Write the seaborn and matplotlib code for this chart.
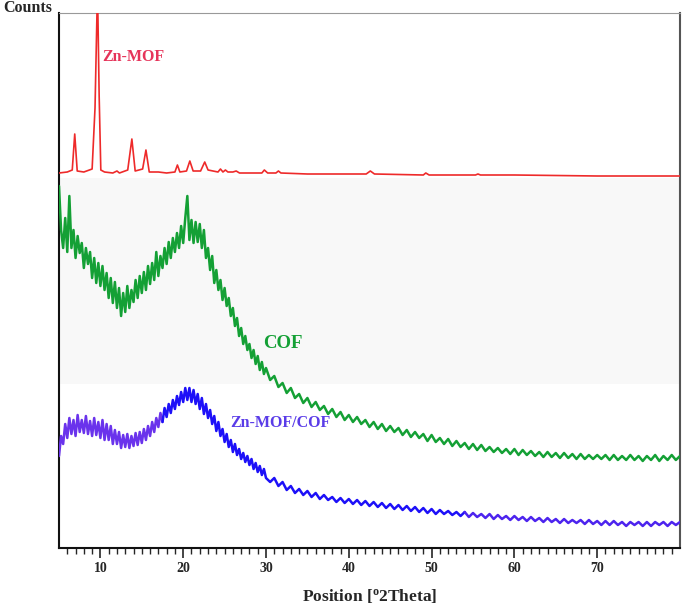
import numpy as np
import pandas as pd
import matplotlib
matplotlib.use("Agg")
import matplotlib.pyplot as plt
import seaborn as sns

# ---------------- data ----------------
mof_x = [5.0, 6.0, 6.6, 6.9, 7.2, 8.0, 9.0, 9.35, 9.65, 9.85, 10.05, 10.5, 11.5, 12.0, 12.3,
         13.3, 13.8, 14.2, 15.1, 15.5, 15.9, 17.0, 18.0, 19.0, 19.3, 19.6, 20.4, 20.8, 21.2,
         22.1, 22.6, 23.0, 23.6, 24.2, 24.5, 24.8, 25.1, 25.4, 26.0, 26.4, 26.8, 28.0, 29.5,
         29.8, 30.2, 31.2, 31.5, 31.8, 35.0, 38.0, 42.1, 42.6, 43.1, 49.0, 49.3, 49.7, 55.3,
         55.6, 55.9, 60.0, 70.0, 80.0]
mof_y = [375, 376, 378, 414, 377, 376, 379, 440, 560, 452, 378, 376, 375, 377, 375,
         378, 409, 377, 379, 398, 376, 376, 375, 376, 383, 376, 377, 387, 377,
         377, 386, 378, 377, 376, 379, 376, 378, 376, 376, 377, 375, 375, 375,
         378, 375, 375, 377, 375, 374, 374, 374, 377, 374, 373, 375, 373, 373,
         374, 373, 373, 372, 372]

# COF: 5.00-30.00 every 0.25, then 30.5-80 every 0.5
cof_y_head = [362, 318, 300, 330,  296, 352, 300, 318,  290, 312, 295, 305,
              280, 300, 284, 296,  270, 290, 265, 285,  262, 282, 258, 275,
              250, 270, 245, 266,  240, 260, 232, 255,  236, 262, 240, 258,
              246, 268, 250, 272,  255, 276, 258, 282,  264, 285, 268, 296,
              272, 292, 280, 300,  284, 306, 290, 310,  296, 315, 300, 322,
              305, 330, 352, 308,  328, 305, 326, 306,  324, 300, 318, 290,
              300, 278, 292, 265,  278, 258, 268, 248,  260, 242, 250, 232,
              240, 222, 230, 212,  220, 204, 212, 198,  204, 190, 198, 184,
              192, 178, 186, 174,  180]
cof_y_tail = [168, 172, 161, 165, 155, 160, 150, 154, 145, 150,
              141, 146, 138, 142, 134, 139, 131, 136, 128, 133,
              126, 131, 124, 128, 121, 126, 119, 124, 117, 122,
              116, 120, 113, 118, 111, 116, 110, 114, 107, 113,
              106, 110, 104, 109, 102, 107, 101, 105, 99, 104,
              98, 103, 97, 101, 96, 100, 95, 99, 94, 99,
              93, 98, 93, 97, 92, 96, 91, 96, 91, 95,
              90, 95, 90, 94, 89, 94, 89, 93, 89, 93,
              89, 93, 88, 93, 88, 92, 88, 93, 88, 92,
              87, 92, 88, 93, 87, 92, 88, 93, 88, 92]

comp_y_head = [92, 112, 104, 124,  110, 130, 114, 128,  112, 133, 116, 128,
               115, 132, 114, 127,  112, 130, 113, 126,  110, 128, 108, 124,
               108, 122, 104, 118,  104, 116, 100, 113,  101, 114, 100, 112,
               102, 115, 103, 116,  105, 119, 108, 122,  112, 126, 116, 130,
               121, 135, 126, 140,  131, 144, 135, 148,  139, 152, 143, 156,
               146, 160, 148, 160,  146, 158, 144, 154,  139, 150, 134, 144,
               130, 138, 124, 132,  117, 126, 112, 119,  106, 114, 101, 108,
               96, 104, 93, 99,  89, 95, 86, 92,  83, 89, 79, 85,
               76, 82, 73, 79,  70]
comp_y_tail = [66, 70, 62, 66, 58, 62, 55, 59, 53, 57,
               51, 55, 49, 53, 48, 51, 46, 50, 45, 49,
               44, 48, 43, 47, 42, 46, 41, 45, 40, 44,
               39, 43, 38, 42, 37, 41, 36, 40, 35, 39,
               34, 38, 34, 37, 33, 36, 32, 36, 31, 35,
               31, 34, 30, 34, 29, 33, 29, 32, 28, 32,
               28, 31, 27, 31, 27, 30, 26, 30, 26, 29,
               25, 29, 25, 28, 25, 28, 24, 28, 24, 27,
               23, 27, 23, 27, 23, 26, 22, 26, 23, 26,
               22, 26, 22, 26, 23, 26, 22, 26, 23, 26]

x_head = [5.0 + 0.25 * i for i in range(101)]
x_tail = [30.5 + 0.5 * i for i in range(100)]

x_ticks = [10, 20, 30, 40, 50, 60, 70]
labels = ["Zn-MOF", "COF", "Zn-MOF/COF"]

# ---------------- style ----------------
sns.set_style("ticks")
plt.rcParams["font.family"] = ["Liberation Serif", "DejaVu Serif"]
plt.rcParams["font.weight"] = "bold"
plt.rcParams["mathtext.fontset"] = "custom"
plt.rcParams["mathtext.rm"] = "Liberation Serif:bold"
plt.rcParams["mathtext.bf"] = "Liberation Serif:bold"
plt.rcParams["mathtext.it"] = "Liberation Serif:bold:italic"

fig = plt.figure(figsize=(6.85, 6.06), dpi=100)
ax = fig.add_axes([59 / 685, 58 / 606, 621 / 685, 535 / 606])

# faint grey band behind the COF curve
ax.axhspan(164, 370, color="#f8f8f8", zorder=0, lw=0)

df_mof = pd.DataFrame({"x": mof_x, "y": mof_y})
df_cof = pd.DataFrame({"x": x_head + x_tail, "y": cof_y_head + cof_y_tail})
df_comp = pd.DataFrame({"x": x_head + x_tail, "y": comp_y_head + comp_y_tail})

sns.lineplot(data=df_mof, x="x", y="y", ax=ax, color="#ee2a2a", lw=1.2,
             estimator=None, sort=False, zorder=3)
sns.lineplot(data=df_cof, x="x", y="y", ax=ax, color="#14a035", lw=1.8,
             estimator=None, sort=False, zorder=3)

seg1 = df_comp[df_comp["x"] <= 17.5]
seg2 = df_comp[(df_comp["x"] >= 17.5) & (df_comp["x"] <= 54)]
seg3 = df_comp[df_comp["x"] >= 54]
for seg, col in [(seg1, "#6a33ec"), (seg2, "#1d10f8"), (seg3, "#4d24ee")]:
    sns.lineplot(data=seg, x="x", y="y", ax=ax, color=col, lw=1.8,
                 estimator=None, sort=False, zorder=3)

ax.text(10.2, 491, labels[0], color="#e6345a", fontsize=11.5, fontweight="bold",
        va="center", ha="left")
ax.text(29.6, 205, labels[1], color="#14a035", fontsize=13.5, fontweight="bold",
        va="center", ha="left")
ax.text(25.7, 125, labels[2], color="#5a3ce8", fontsize=11.5, fontweight="bold",
        va="center", ha="left")

ax.set_xlim(5, 80)
ax.set_ylim(0, 535)
ax.set_xticks(x_ticks)
ax.set_xticks(list(range(6, 80)), minor=True)
ax.set_yticks([])
ax.tick_params(axis="x", which="major", direction="out", length=7, width=1.2,
               labelsize=10, pad=3)
ax.tick_params(axis="x", which="minor", direction="out", length=4, width=1.0)
for lab in ax.get_xticklabels():
    lab.set_fontweight("bold")

ax.set_xlabel(r"Position [$^{\mathrm{o}}$2Theta]", fontsize=12.5, fontweight="bold", labelpad=9)
ax.set_ylabel("")

for s in ["bottom", "left"]:
    ax.spines[s].set_linewidth(1.5)
    ax.spines[s].set_color("#111111")
ax.spines["right"].set_linewidth(1.5)
ax.spines["right"].set_color("#555555")
ax.spines["top"].set_linewidth(0.8)
ax.spines["top"].set_color("#999999")

fig.text(3 / 685, 1 - 8 / 606, "Counts", fontsize=11.5, fontweight="bold",
         va="center", ha="left")

fig.savefig("out.png", dpi=100)
